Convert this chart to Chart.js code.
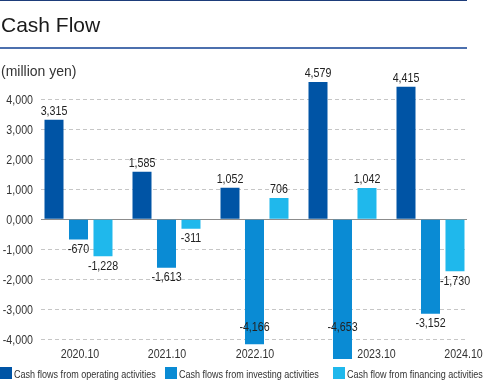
<!DOCTYPE html>
<html>
<head>
<meta charset="utf-8">
<title>Cash Flow</title>
<script src="https://cdn.jsdelivr.net/npm/chart.js@4.4.1/dist/chart.umd.min.js"></script>
<style>
  html, body { margin: 0; padding: 0; background: #fff; }
  #wrap { position: relative; width: 484px; height: 383px; overflow: hidden; }
  #box { position: absolute; left: 0; top: 0; width: 484px; height: 383px; }
  #head { position: absolute; left: 0; top: 0; width: 467px; height: 46px;
          border-top: 1px solid #1d3c7a; border-bottom: 2px solid #4c70ae; z-index: 2; }
  #head h1 { margin: 0; position: absolute; left: 1px; top: 13px; font: 21px/21px 'Liberation Sans', Arial, sans-serif;
             color: #1a1a1a; font-weight: normal; }
  #unit { position: absolute; left: 1px; top: 64px; font: 14px/15px 'Liberation Sans', Arial, sans-serif; color: #333; z-index: 2; }
</style>
</head>
<body>
<div id="wrap">
  <div id="box"><canvas id="cf"></canvas></div>
  <div id="head"><h1>Cash Flow</h1></div>
  <div id="unit">(million yen)</div>
</div>
<script>
// values
const years     = ['2020.10', '2021.10', '2022.10', '2023.10', '2024.10'];
const operating = [3315, 1585, 1052, 4579, 4415];
const investing = [-670, -1613, -4166, -4653, -3152];
const financing = [-1228, -311, 706, 1042, -1730];
const seriesNames = [
  'Cash flows from operating activities',
  'Cash flows from investing activities',
  'Cash flow from financing activities'
];
const yTicks = [-4000, -3000, -2000, -1000, 0, 1000, 2000, 3000, 4000];

const COLORS = ['#0054a5', '#0a8bd4', '#1fb8ec'];
const FONT = '"Liberation Sans", Arial, sans-serif';
const SQUEEZE = 0.82;              // no narrow face installed, so squeeze Liberation Sans
const LABEL_FLOOR = 331;           // lowest baseline for value labels
const YEAR_SHIFT = [1.5, 0.5, 0.5, 34, 33];  // year labels sit off-centre in the original
const LEGEND_X = [0, 165, 333];

const fmt = v => v === 0 ? '0,000' : v.toLocaleString('en-US');

function narrowText(ctx, text, x, y, align) {
  ctx.save();
  ctx.translate(x, y);
  ctx.scale(SQUEEZE, 1);
  ctx.textAlign = align;
  ctx.textBaseline = 'alphabetic';
  ctx.fillText(text, 0, 0);
  ctx.restore();
}

const valueLabels = {
  id: 'valueLabels',
  afterDatasetsDraw(chart) {
    const { ctx } = chart;
    ctx.save();
    ctx.font = '13px ' + FONT;
    ctx.fillStyle = '#222';
    chart.data.datasets.forEach((ds, di) => {
      chart.getDatasetMeta(di).data.forEach((bar, i) => {
        const v = ds.data[i].y;
        const y = v >= 0 ? bar.y - 5 : Math.min(bar.y + 13.5, LABEL_FLOOR);
        narrowText(ctx, fmt(v), bar.x, y, 'center');
      });
    });
    ctx.restore();
  }
};

const axisText = {
  id: 'axisText',
  afterDraw(chart) {
    const { ctx, scales: { x, y } } = chart;
    ctx.save();
    ctx.font = '13px ' + FONT;
    ctx.fillStyle = '#333';
    yTicks.forEach(v => narrowText(ctx, fmt(v), y.right - 8, y.getPixelForValue(v) + 4.6, 'right'));
    years.forEach((yr, i) => narrowText(ctx, yr, x.getPixelForValue(i) + YEAR_SHIFT[i], 358, 'center'));

    // legend
    ctx.font = '11px ' + FONT;
    chart.data.datasets.forEach((ds, k) => {
      ctx.fillStyle = ds.backgroundColor;
      ctx.fillRect(LEGEND_X[k], 367, 12, 12);
      ctx.fillStyle = '#333';
      narrowText(ctx, ds.label, LEGEND_X[k] + 14, 378, 'left');
    });
    ctx.restore();
  }
};

const series = [operating, investing, financing];

new Chart(document.getElementById('cf'), {
  type: 'bar',
  data: {
    datasets: series.map((vals, k) => ({
      label: seriesNames[k],
      data: vals.map((v, i) => ({ x: i, y: v })),
      backgroundColor: COLORS[k],
      borderWidth: 0
    }))
  },
  options: {
    responsive: true,
    maintainAspectRatio: false,
    animation: false,
    categoryPercentage: 0.835,
    barPercentage: 0.776,
    layout: { padding: { top: 69.3, right: 17, bottom: 22.7, left: 0 } },
    scales: {
      x: {
        type: 'linear',
        display: false,
        offset: false,
        min: -0.4261,
        max: 4.4148,
        afterBuildTicks: s => { s.ticks = years.map((_, i) => ({ value: i })); }
      },
      y: {
        min: -4700,
        max: 5000,
        bounds: 'data',
        afterBuildTicks: s => { s.ticks = yTicks.map(v => ({ value: v })); },
        afterFit: s => { s.width = 41; },
        ticks: { display: false },
        grid: {
          color: c => c.tick && c.tick.value === 0 ? '#8c8c8c' : '#c6c6c6',
          lineWidth: 1,
          drawTicks: false
        },
        border: {
          display: false,
          dash: c => c.tick && c.tick.value === 0 ? [] : [4, 3]
        }
      }
    },
    plugins: {
      legend: { display: false },
      tooltip: { enabled: false }
    }
  },
  plugins: [valueLabels, axisText]
});
</script>
</body>
</html>
